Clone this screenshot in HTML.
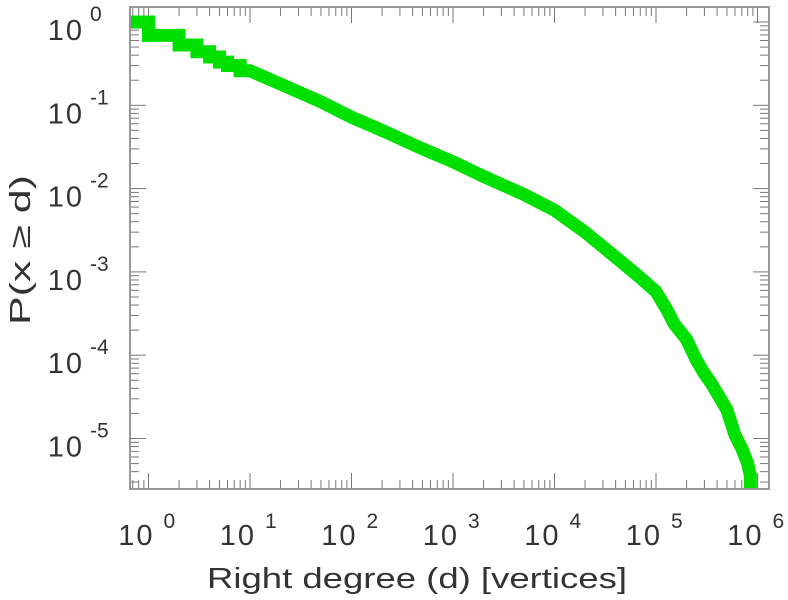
<!DOCTYPE html>
<html><head><meta charset="utf-8"><style>
html,body{margin:0;padding:0;background:#fff;}
svg{display:block;font-family:"Liberation Sans",sans-serif;}
</style></head><body>
<svg id="chart" width="788" height="600" viewBox="0 0 788 600" xmlns="http://www.w3.org/2000/svg">
<g id="ticks"></g>
<g id="series"></g>
<rect x="130" y="7" width="639" height="482" fill="none" stroke="#999" stroke-width="2"/>
<g id="labels" fill="#333" font-size="29"></g>
<text x="207" y="588" textLength="420" lengthAdjust="spacingAndGlyphs" font-size="29" fill="#333">Right degree (d) [vertices]</text>
<text transform="translate(30,250) rotate(-90)" text-anchor="middle" font-size="29" fill="#333" textLength="150" lengthAdjust="spacingAndGlyphs">P(x ≥ d)</text>
</svg>
<script>
const degrees = [1,2,3,4,5,6,8,10,20,50,100,200,500,1000,2000,5000,10000,20000,30000,50000,70000,100000,130000,150000,200000,250000,300000,350000,400000,500000,600000,700000,800000,850000];
const ccdf = [1,0.69,0.53,0.44,0.38,0.33,0.30,0.26,0.18,0.11,0.072,0.05,0.030,0.021,0.014,0.0085,0.0055,0.003,0.002,0.0012,0.00085,0.00058,0.00034,0.00024,0.000155,0.000087,0.00006,0.000046,0.000035,0.000022,0.000011,0.0000076,0.000005,0.0000036];
const xExponents = [0,1,2,3,4,5,6];
const yExponents = [0,-1,-2,-3,-4,-5];

const NS = "http://www.w3.org/2000/svg";
const X0 = 148.5, XD = 101.5, Y0 = 22, YD = 83.3;
const L = 130, R = 769, T = 7, B = 489;
function xs(v){ return X0 + Math.log10(v) * XD; }
function ys(v){ return Y0 - Math.log10(v) * YD; }
function mk(tag, attrs, parent){ const e = document.createElementNS(NS, tag); for (const k in attrs) e.setAttribute(k, attrs[k]); parent.appendChild(e); return e; }

const tg = document.getElementById('ticks');
for (let e = -1; e <= 6; e++) {
  for (let m = 1; m <= 9; m++) {
    const x = X0 + (e + Math.log10(m)) * XD;
    if (x < L || x > R) continue;
    const len = m === 1 ? 16 : 9;
    const t1 = mk('line', {x1:x, x2:x, y1:B, y2:B-len, stroke:'#777', 'stroke-width':1}, tg);
    
    
    const t2 = mk('line', {x1:x, x2:x, y1:T, y2:T+len, stroke:'#777', 'stroke-width':1}, tg);
    
    
  }
}
for (let e = -6; e <= 1; e++) {
  for (let m = 1; m <= 9; m++) {
    const y = Y0 - (e + Math.log10(m)) * YD;
    if (y < T || y > B) continue;
    const len = m === 1 ? 16 : 9;
    const t1 = mk('line', {x1:L, x2:L+len, y1:y, y2:y, stroke:'#777', 'stroke-width':1}, tg);
    
    
    const t2 = mk('line', {x1:R, x2:R-len, y1:y, y2:y, stroke:'#777', 'stroke-width':1}, tg);
    
    
  }
}

const sg = document.getElementById('series');
let d = 'M' + (L+6) + ',' + ys(ccdf[0]) + ' L' + xs(degrees[0]) + ',' + ys(ccdf[0]);
for (let i = 1; i < degrees.length; i++) {
  if (degrees[i] <= 10) {
    d += ' L' + xs(degrees[i-1]) + ',' + ys(ccdf[i]) + ' L' + xs(degrees[i]) + ',' + ys(ccdf[i]);
  } else {
    d += ' L' + xs(degrees[i]) + ',' + ys(ccdf[i]);
  }
}
d += ' L' + xs(degrees[degrees.length-1]) + ',' + (B - 6);
const p = mk('path', {d:d, fill:'none', stroke:'#00e000', 'stroke-width':13, 'stroke-linejoin':'miter', 'stroke-linecap':'square'}, sg);



const lg = document.getElementById('labels');
xExponents.forEach(e => {
  const x = X0 + e * XD;
  const t = mk('text', {x:x+6, y:545, 'text-anchor':'end', 'letter-spacing':'2'}, lg);
  t.textContent = '10';
  
  
  const s = mk('text', {x:x+15, y:528, 'font-size':21}, lg);
  s.textContent = String(e);
  
  
});
yExponents.forEach(e => {
  const y = Y0 - e * YD;
  const t = mk('text', {x:84, y:y+18, 'text-anchor':'end', 'letter-spacing':'2'}, lg);
  t.textContent = '10';
  
  
  const s = mk('text', {x:90, y:y-1, 'font-size':21}, lg);
  s.textContent = String(e);
  
  
});
</script>
</body></html>
